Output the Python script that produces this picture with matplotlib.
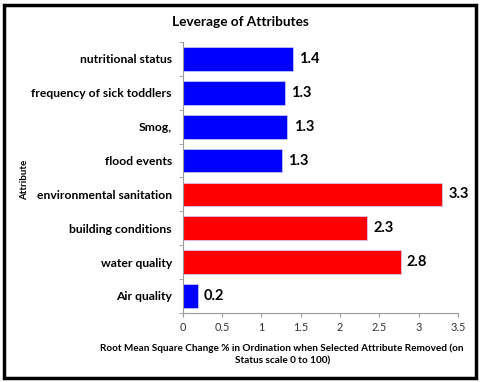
import numpy as np
import matplotlib.pyplot as plt
from matplotlib.patches import Rectangle

# Data (top to bottom as displayed)
attributes = ['nutritional status', 'frequency of sick toddlers', 'Smog,', 'flood events',
              'environmental sanitation', 'building conditions', 'water quality', 'Air quality']
rms_change = [1.40, 1.30, 1.33, 1.26, 3.30, 2.34, 2.77, 0.19]
labels = ['1.4', '1.3', '1.3', '1.3', '3.3', '2.3', '2.8', '0.2']
colors = ['#0000FF', '#0000FF', '#0000FF', '#0000FF', '#FF0000', '#FF0000', '#FF0000', '#0000FF']

plt.rcParams['font.family'] = ['Lato', 'DejaVu Sans']

fig = plt.figure(figsize=(4.8, 3.82), dpi=100)
ax = fig.add_axes([0.381, 0.181, 0.573, 0.709])

y = np.arange(len(attributes))
ax.barh(y, rms_change, height=0.7, color=colors, edgecolor='#d0d0ff', linewidth=0.5)
for yi, v, t in zip(y, rms_change, labels):
    ax.text(v + 0.08, yi, t, va='center', ha='left', fontsize=10.5, fontweight='bold')

ax.set_ylim(len(attributes) - 0.5, -0.5)
ax.set_xlim(0, 3.5)
ax.set_xticks(np.arange(0, 3.51, 0.5))
ax.set_xticklabels(['0', '0.5', '1', '1.5', '2', '2.5', '3', '3.5'])
ax.set_yticks(y)
ax.set_yticklabels(attributes, fontsize=8.7, fontweight='bold')
ax.set_yticks(np.arange(-0.5, len(attributes), 1), minor=True)
ax.tick_params(axis='y', which='major', length=0, pad=8)
ax.tick_params(axis='y', which='minor', length=3, color='#999999')
ax.tick_params(axis='x', length=3, color='#999999', labelsize=7.8, labelcolor='#333333')

for s in ['top', 'right']:
    ax.spines[s].set_visible(False)
for s in ['left', 'bottom']:
    ax.spines[s].set_color('#999999')
    ax.spines[s].set_linewidth(0.8)

fig.text(0.588, 0.072, 'Root Mean Square Change % in Ordination when Selected Attribute Removed (on\nStatus scale 0 to 100)',
         fontsize=7.2, fontweight='bold', ha='center', va='center', linespacing=1.4)
fig.text(0.052, 0.529, 'Attribute', rotation=90, fontsize=7, fontweight='bold', ha='center', va='center')
fig.text(0.5, 0.942, 'Leverage of Attributes', fontsize=9.8, fontweight='bold', ha='center', va='center')

fig.patches.append(Rectangle((0.008, 0.01), 0.984, 0.978, transform=fig.transFigure,
                             fill=False, edgecolor='black', linewidth=2.5))

fig.savefig('out.png', dpi=100)
